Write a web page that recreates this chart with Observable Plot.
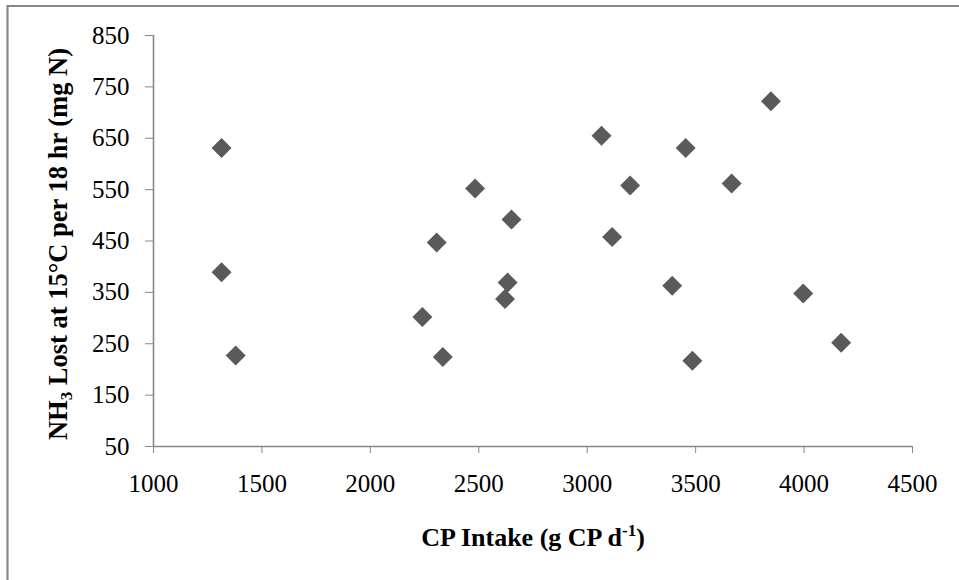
<!DOCTYPE html>
<html>
<head>
<meta charset="utf-8">
<script src="https://cdn.jsdelivr.net/npm/d3@7"></script>
<script src="https://cdn.jsdelivr.net/npm/@observablehq/plot@0.6"></script>
<style>
  html, body { margin: 0; padding: 0; background: #fff; }
  #chart { position: relative; width: 959px; height: 580px; overflow: hidden; }
</style>
</head>
<body>
<div id="chart"></div>
<script>
// Crude protein intake (g CP per day) for each cow
const cpIntake = [1314, 1314, 1379, 2240, 2306, 2334, 2483, 2621, 2633, 2651,
                  3066, 3115, 3198, 3392, 3454, 3485, 3666, 3847, 3996, 4171];
// NH3 lost at 15°C over 18 hr (mg N)
const nh3Lost  = [631, 389, 227, 302, 447, 224, 552, 337, 369, 492,
                  655, 458, 558, 363, 631, 217, 562, 722, 348, 252];

const xTicks = [1000, 1500, 2000, 2500, 3000, 3500, 4000, 4500];
const yTicks = [50, 150, 250, 350, 450, 550, 650, 750, 850];

const points = cpIntake.map((x, i) => ({x, y: nh3Lost[i]}));

const axisGray = "#878787";
const fontFamily = "'Liberation Serif', 'Times New Roman', serif";

const plot = Plot.plot({
  width: 959,
  height: 580,
  marginLeft: 153,
  marginRight: 47,
  marginTop: 35,
  marginBottom: 134,
  style: {fontFamily, fontSize: "25px", color: "#000", background: "transparent"},
  x: {domain: [1000, 4500]},
  y: {domain: [50, 850]},
  marks: [
    Plot.axisX({ticks: xTicks, tickSize: 7, tickPadding: 21, stroke: axisGray, fill: "#000",
                fontSize: 25, label: null, tickFormat: d => String(d)}),
    Plot.axisY({ticks: yTicks, tickSize: 8, tickPadding: 16, stroke: axisGray, fill: "#000",
                fontSize: 25, label: null, tickFormat: d => String(d)}),
    Plot.ruleY([50], {stroke: axisGray, strokeWidth: 1.6}),
    Plot.ruleX([1000], {stroke: axisGray, strokeWidth: 1.6}),
    Plot.dot(points, {x: "x", y: "y", symbol: "diamond2", r: 9, fill: "#5a5a5a", stroke: "none"})
  ]
});

document.getElementById("chart").appendChild(plot);

const svg = d3.select(plot);

// outer frame (left and top edges)
svg.append("path")
  .attr("d", "M7.5,580V6H959")
  .attr("fill", "none")
  .attr("stroke", axisGray)
  .attr("stroke-width", 2.2);

// x-axis title with superscript
const xt = svg.append("text")
  .attr("x", 533)
  .attr("y", 546)
  .attr("text-anchor", "middle")
  .attr("font-family", fontFamily)
  .attr("font-weight", "bold")
  .attr("font-size", 26)
  .attr("fill", "#000");
xt.append("tspan").text("CP Intake (g CP d");
xt.append("tspan").attr("font-size", 17).attr("dy", -10).text("-1");
xt.append("tspan").attr("dy", 10).text(")");

// y-axis title with subscript
const yt = svg.append("text")
  .attr("transform", "translate(67,244) rotate(-90)")
  .attr("text-anchor", "middle")
  .attr("font-family", fontFamily)
  .attr("font-weight", "bold")
  .attr("font-size", 26.5)
  .attr("fill", "#000");
yt.append("tspan").text("NH");
yt.append("tspan").attr("font-size", 17).attr("dy", 5).text("3");
yt.append("tspan").attr("dy", -5).text(" Lost at 15°C per 18 hr (mg N)");
</script>
</body>
</html>
